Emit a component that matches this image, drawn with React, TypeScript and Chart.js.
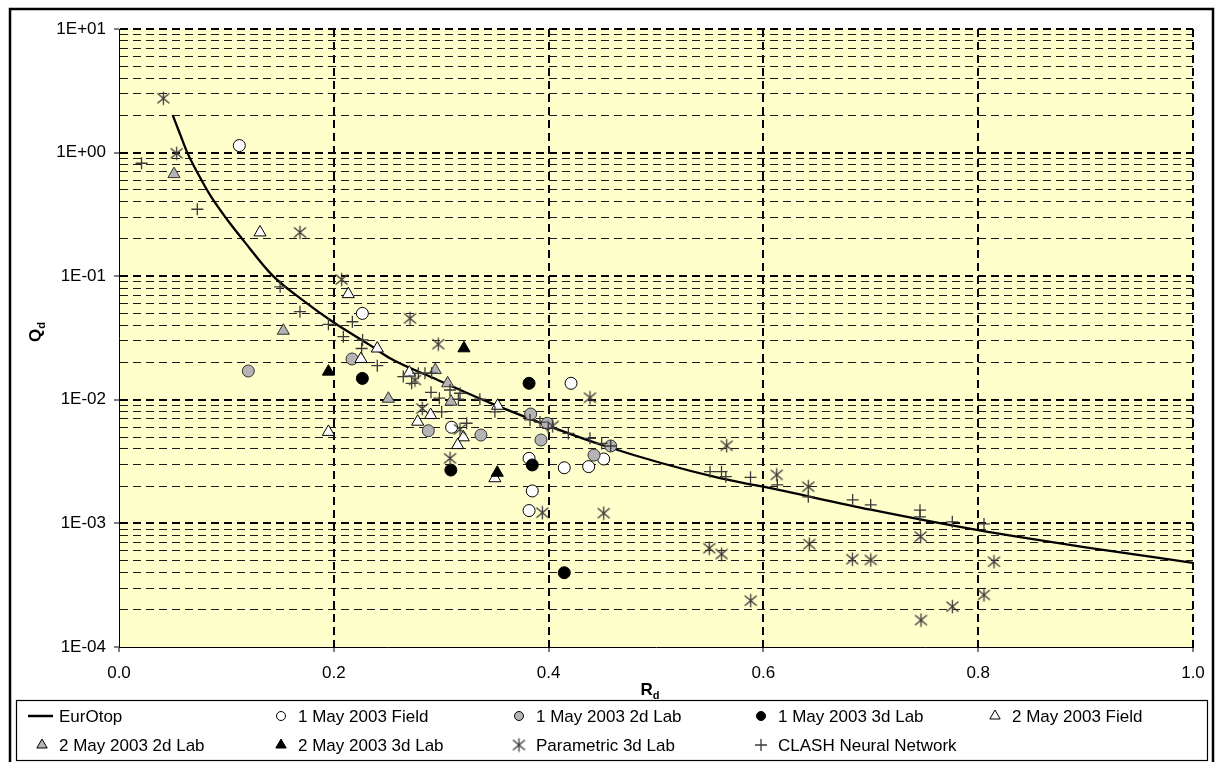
import React, { useEffect, useRef } from 'react';
import { Chart, registerables } from 'chart.js';

Chart.register(...registerables);

const FONT = "'Liberation Sans', Arial, sans-serif";

// ---------- axis ticks ----------
const xTickValues = [0, 0.2, 0.4, 0.6, 0.8, 1.0];
const xTickLabels = ['0.0', '0.2', '0.4', '0.6', '0.8', '1.0'];
const yDecades = [1e-4, 1e-3, 1e-2, 1e-1, 1, 10];
const yDecadeLabels = ['1E-04', '1E-03', '1E-02', '1E-01', '1E+00', '1E+01'];
const yMinorMultipliers = [2, 3, 4, 5, 6, 7, 8, 9];

// ---------- series ----------
const eurotopRd = [0.05, 0.057, 0.0636, 0.075, 0.085, 0.1003, 0.1158, 0.1431, 0.171, 0.1996, 0.2337, 0.2523, 0.2958, 0.35, 0.4525, 0.5596, 0.6, 0.7, 0.7986, 0.9, 1.0];
const eurotopQd = [2.01, 1.4, 1.0, 0.64, 0.45, 0.29, 0.195, 0.101, 0.064, 0.0424, 0.0277, 0.0217, 0.0146, 0.0091, 0.00423, 0.00232, 0.00198, 0.00129, 0.000885, 0.00064, 0.00048];

const may1FieldRd = [0.112, 0.2266, 0.4209, 0.3097, 0.4513, 0.3818, 0.4146, 0.4373, 0.3848, 0.3818];
const may1FieldQd = [1.14, 0.05, 0.0136, 0.006, 0.00332, 0.00336, 0.00282, 0.00288, 0.00183, 0.00127];

const may1Lab2dRd = [0.1204, 0.217, 0.288, 0.337, 0.3833, 0.3988, 0.3929, 0.4578, 0.4423];
const may1Lab2dQd = [0.0171, 0.0214, 0.00562, 0.00519, 0.00767, 0.00645, 0.00473, 0.00423, 0.00357];

const may1Lab3dRd = [0.2266, 0.3818, 0.309, 0.3848, 0.4146];
const may1Lab3dQd = [0.0149, 0.0136, 0.0027, 0.00297, 0.000399];

const may2FieldRd = [0.1313, 0.2135, 0.2405, 0.2253, 0.195, 0.2703, 0.2781, 0.2902, 0.3206, 0.3153, 0.3526, 0.35];
const may2FieldQd = [0.226, 0.0716, 0.026, 0.0214, 0.0055, 0.0166, 0.00665, 0.00753, 0.00497, 0.0043, 0.00895, 0.00232];

const may2Lab2dRd = [0.0512, 0.153, 0.2508, 0.2945, 0.306, 0.3091];
const may2Lab2dQd = [0.67, 0.0362, 0.0102, 0.0174, 0.0136, 0.00966];

const may2Lab3dRd = [0.195, 0.3212, 0.3522];
const may2Lab3dQd = [0.0169, 0.0261, 0.00257];

const paramRd = [0.0413, 0.0537, 0.1685, 0.2073, 0.271, 0.2973, 0.2756, 0.2824, 0.3175, 0.3082, 0.3942, 0.4038, 0.4385, 0.4513, 0.5658, 0.5496, 0.5611, 0.5882, 0.6124, 0.6418, 0.6428, 0.6828, 0.7, 0.7464, 0.7467, 0.7759, 0.8054, 0.8147];
const paramQd = [2.75, 0.987, 0.226, 0.094, 0.0456, 0.0282, 0.01445, 0.0085, 0.00577, 0.00336, 0.00122, 0.00614, 0.0104, 0.00121, 0.00425, 0.00063, 0.000565, 0.000237, 0.00247, 0.00198, 0.00068, 0.000513, 0.000506, 0.000782, 0.000165, 0.000212, 0.000264, 0.00049];

const clashRd = [0.021, 0.0729, 0.15, 0.1685, 0.195, 0.2173, 0.2089, 0.2268, 0.2259, 0.2405, 0.2647, 0.2725, 0.2787, 0.2849, 0.2911, 0.2905, 0.2983, 0.3082, 0.3175, 0.316, 0.336, 0.35, 0.3004, 0.3237, 0.3827, 0.392, 0.3997, 0.4184, 0.4385, 0.4494, 0.4578, 0.5503, 0.561, 0.565, 0.588, 0.613, 0.6418, 0.6831, 0.6999, 0.7458, 0.7458, 0.7759, 0.8054];
const clashQd = [0.82, 0.348, 0.082, 0.0516, 0.0408, 0.0428, 0.0324, 0.0305, 0.026, 0.0189, 0.0154, 0.0136, 0.0164, 0.0164, 0.0164, 0.0115, 0.0103, 0.012, 0.0113, 0.0101, 0.0101, 0.008, 0.008, 0.00646, 0.00687, 0.0066, 0.00588, 0.00535, 0.00488, 0.00444, 0.00423, 0.00262, 0.00262, 0.00239, 0.00236, 0.00205, 0.00164, 0.00155, 0.00141, 0.00128, 0.00113, 0.00103, 0.00099];

const seriesLabels = [
  'EurOtop',
  '1 May 2003 Field',
  '1 May 2003 2d Lab',
  '1 May 2003 3d Lab',
  '2 May 2003 Field',
  '2 May 2003 2d Lab',
  '2 May 2003 3d Lab',
  'Parametric 3d Lab',
  'CLASH Neural Network',
];

const GREY = '#b4b4b4';
const MARK = '#3a3a3a';

function isDecade(v: number | undefined) {
  if (v == null || v <= 0) return false;
  const l = Math.log10(v);
  return Math.abs(l - Math.round(l)) < 1e-6;
}

function makeStar(size: number, color: string, lw: number) {
  const c = document.createElement('canvas');
  c.width = size;
  c.height = size;
  const g = c.getContext('2d')!;
  const m = size / 2;
  const a = size * 0.4;
  g.strokeStyle = color;
  g.lineWidth = lw;
  g.beginPath();
  g.moveTo(m - a, m - a * 0.85);
  g.lineTo(m + a, m + a * 0.85);
  g.moveTo(m + a, m - a * 0.85);
  g.lineTo(m - a, m + a * 0.85);
  g.moveTo(m, m - size * 0.45);
  g.lineTo(m, m + size * 0.45);
  g.stroke();
  return c;
}

const pts = (rd: number[], qd: number[]) => rd.map((x, i) => ({ x, y: qd[i] }));

export default function App() {
  const ref = useRef<HTMLCanvasElement>(null);

  useEffect(() => {
    const canvas = ref.current!;
    const star = makeStar(15, MARK, 1.3);

    type Kind = 'line' | 'circle' | 'triangle' | 'star' | 'plus';
    const kinds: Kind[] = ['line', 'circle', 'circle', 'circle', 'triangle', 'triangle', 'triangle', 'star', 'plus'];
    const fills = ['#000', '#fff', GREY, '#000', '#fff', GREY, '#000', MARK, MARK];

    const datasets: any[] = [
      {
        data: pts(eurotopRd, eurotopQd),
        showLine: true,
        pointRadius: 0,
        borderColor: '#000',
        borderWidth: 2.3,
        cubicInterpolationMode: 'monotone',
      },
      { data: pts(may1FieldRd, may1FieldQd), pointStyle: 'circle', pointRadius: 6, backgroundColor: '#fff', borderColor: '#000', borderWidth: 1 },
      { data: pts(may1Lab2dRd, may1Lab2dQd), pointStyle: 'circle', pointRadius: 6, backgroundColor: GREY, borderColor: '#333', borderWidth: 1 },
      { data: pts(may1Lab3dRd, may1Lab3dQd), pointStyle: 'circle', pointRadius: 6, backgroundColor: '#000', borderColor: '#000', borderWidth: 1 },
      { data: pts(may2FieldRd, may2FieldQd), pointStyle: 'triangle', pointRadius: 7, backgroundColor: '#fff', borderColor: '#000', borderWidth: 1 },
      { data: pts(may2Lab2dRd, may2Lab2dQd), pointStyle: 'triangle', pointRadius: 7, backgroundColor: GREY, borderColor: '#333', borderWidth: 1 },
      { data: pts(may2Lab3dRd, may2Lab3dQd), pointStyle: 'triangle', pointRadius: 7, backgroundColor: '#000', borderColor: '#000', borderWidth: 1 },
      { data: pts(paramRd, paramQd), pointStyle: star, pointRadius: 6, backgroundColor: MARK, borderColor: MARK, borderWidth: 1 },
      { data: pts(clashRd, clashQd), pointStyle: 'cross', pointRadius: 6, backgroundColor: MARK, borderColor: MARK, borderWidth: 1.3 },
    ].map((d, i, arr) => ({ ...d, label: seriesLabels[i], order: arr.length - i }));

    const decoPlugin = {
      id: 'deco',
      beforeDraw(chart: any) {
        const { ctx, chartArea: a } = chart;
        ctx.save();
        ctx.fillStyle = '#fff';
        ctx.fillRect(0, 0, chart.width, chart.height);
        ctx.fillStyle = '#FFFFCC';
        ctx.fillRect(a.left, a.top, a.right - a.left, a.bottom - a.top);
        ctx.restore();
      },
      afterDraw(chart: any) {
        const { ctx } = chart;
        ctx.save();
        // outer frame
        ctx.strokeStyle = '#000';
        ctx.lineWidth = 2.5;
        ctx.strokeRect(10, 9, 1203, 758);
        // legend box
        ctx.lineWidth = 1.2;
        ctx.strokeRect(16.5, 700.5, 1191, 60);

        // axis titles
        ctx.fillStyle = '#000';
        ctx.textAlign = 'left';
        ctx.textBaseline = 'alphabetic';
        const drawSub = (main: string, sub: string, cx: number, cy: number) => {
          ctx.font = `bold 17px ${FONT}`;
          const mw = ctx.measureText(main).width;
          ctx.font = `bold 11px ${FONT}`;
          const sw = ctx.measureText(sub).width;
          const x0 = cx - (mw + sw) / 2;
          ctx.font = `bold 17px ${FONT}`;
          ctx.fillText(main, x0, cy + 6);
          ctx.font = `bold 11px ${FONT}`;
          ctx.fillText(sub, x0 + mw, cy + 10);
        };
        drawSub('R', 'd', 650, 689);
        ctx.save();
        ctx.translate(35, 332);
        ctx.rotate(-Math.PI / 2);
        drawSub('Q', 'd', 0, 0);
        ctx.restore();

        // legend
        const cols = [42, 281, 519, 761, 995];
        const rows = [716, 745];
        ctx.font = `17px ${FONT}`;
        ctx.textBaseline = 'middle';
        chart.data.datasets.forEach((ds: any, i: number) => {
          const mx = cols[i % 5];
          const my = rows[Math.floor(i / 5)];
          const k = kinds[i];
          ctx.fillStyle = fills[i];
          ctx.strokeStyle = '#000';
          ctx.lineWidth = 1;
          if (k === 'line') {
            ctx.lineWidth = 2.5;
            ctx.beginPath();
            ctx.moveTo(28, my);
            ctx.lineTo(53, my);
            ctx.stroke();
          } else if (k === 'circle') {
            ctx.beginPath();
            ctx.arc(mx, my, 4.5, 0, Math.PI * 2);
            ctx.fill();
            ctx.stroke();
          } else if (k === 'triangle') {
            const r = 6;
            ctx.beginPath();
            ctx.moveTo(mx, my - r);
            ctx.lineTo(mx + r * 0.866, my + r * 0.5);
            ctx.lineTo(mx - r * 0.866, my + r * 0.5);
            ctx.closePath();
            ctx.fill();
            ctx.stroke();
          } else if (k === 'star') {
            ctx.drawImage(star, mx - star.width / 2, my - star.height / 2);
          } else {
            ctx.strokeStyle = MARK;
            ctx.lineWidth = 1.3;
            ctx.beginPath();
            ctx.moveTo(mx - 6, my);
            ctx.lineTo(mx + 6, my);
            ctx.moveTo(mx, my - 6);
            ctx.lineTo(mx, my + 6);
            ctx.stroke();
          }
          ctx.fillStyle = '#000';
          ctx.fillText(ds.label, mx + 17, my + 1);
        });
        ctx.restore();
      },
    };

    const chart = new Chart(canvas, {
      type: 'scatter',
      data: { datasets },
      plugins: [decoPlugin],
      options: {
        responsive: false,
        maintainAspectRatio: false,
        devicePixelRatio: 1,
        animation: false,
        layout: { padding: { left: 0, top: 29, right: 26, bottom: 0 } },
        plugins: { legend: { display: false }, tooltip: { enabled: false } },
        scales: {
          x: {
            type: 'linear',
            min: 0,
            max: 1,
            afterFit: (s: any) => {
              s.height = 115;
            },
            afterBuildTicks: (s: any) => {
              s.ticks = xTickValues.map((v) => ({ value: v }));
            },
            ticks: {
              autoSkip: false,
              padding: 11,
              color: '#000',
              font: { family: FONT, size: 17 },
              maxRotation: 0,
              callback: (v: any, i: number) => xTickLabels[i],
            },
            grid: {
              color: (c: any) => (c.tick && c.tick.value === 0 ? 'rgba(0,0,0,0)' : '#000'),
              lineWidth: 2,
              tickColor: '#000',
              tickWidth: 1,
              tickLength: 5,
            },
            border: { display: true, color: '#000', width: 1, dash: [8, 5] },
          },
          y: {
            type: 'logarithmic',
            min: 1e-4,
            max: 10,
            afterFit: (s: any) => {
              s.width = 119;
            },
            afterBuildTicks: (s: any) => {
              const t: { value: number }[] = [];
              yDecades.forEach((d, i) => {
                t.push({ value: d });
                if (i < yDecades.length - 1) yMinorMultipliers.forEach((m) => t.push({ value: d * m }));
              });
              s.ticks = t;
            },
            ticks: {
              autoSkip: false,
              padding: 8,
              color: '#000',
              font: { family: FONT, size: 17 },
              callback: (v: any) => {
                const idx = yDecades.findIndex((d) => Math.abs(d - v) / d < 1e-6);
                return idx >= 0 ? yDecadeLabels[idx] : '';
              },
            },
            grid: {
              color: (c: any) => (c.tick && Math.abs(c.tick.value - 1e-4) < 1e-9 ? 'rgba(0,0,0,0)' : (isDecade(c.tick && c.tick.value) ? '#000' : '#1a1a1a')),
              lineWidth: (c: any) => (c.tick && isDecade(c.tick.value) ? 2 : 1),
              tickColor: (c: any) => (c.tick && isDecade(c.tick.value) ? '#000' : 'rgba(0,0,0,0)'),
              tickWidth: 1,
              tickLength: 5,
            },
            border: { display: true, color: '#000', width: 1, dash: [8, 5] },
          },
        },
      } as any,
    });

    return () => chart.destroy();
  }, []);

  return (
    <div style={{ position: 'fixed', left: 0, top: 0, width: 1219, height: 762, background: '#fff' }}>
      <canvas ref={ref} width={1219} height={762} style={{ display: 'block', width: 1219, height: 762 }} />
    </div>
  );
}
